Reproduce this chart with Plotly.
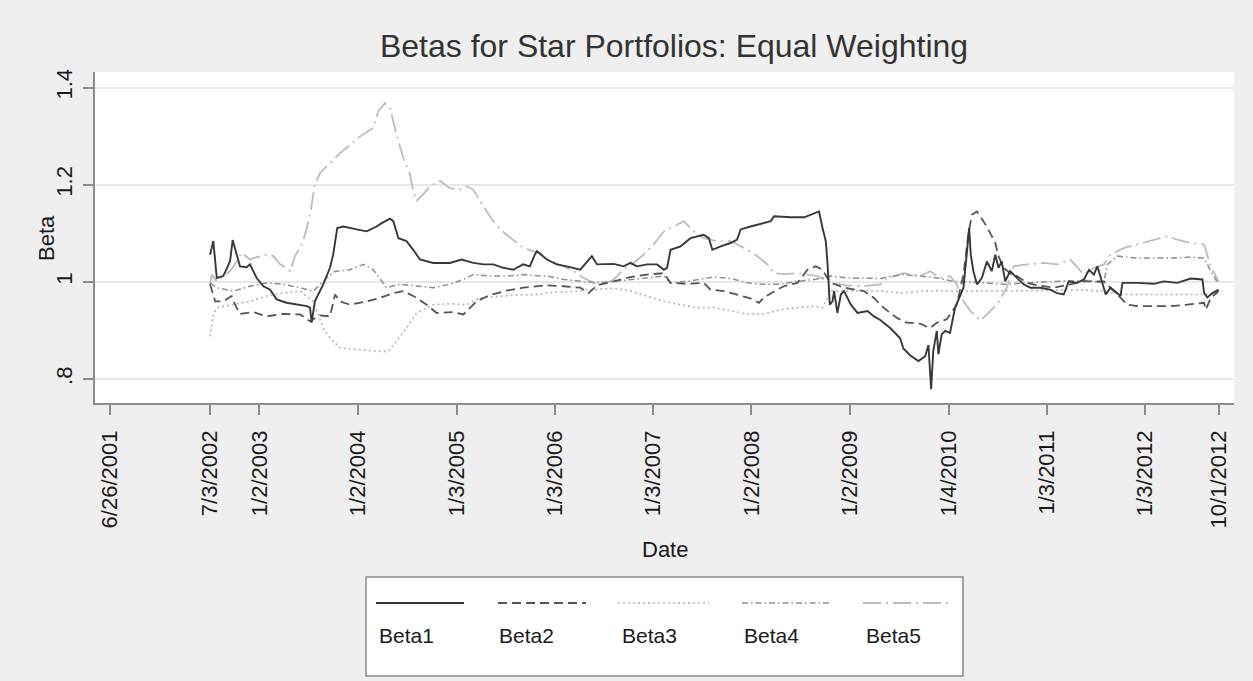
import plotly.graph_objects as go

# ---------------- data ----------------
b1_dates = ["2002-07-03","2002-07-15","2002-07-28","2002-08-21","2002-09-15","2002-09-25","2002-10-10","2002-10-22",
            "2002-11-16","2002-11-28","2002-12-23","2003-01-17","2003-02-11","2003-03-07","2003-04-13","2003-05-20",
            "2003-06-27","2003-07-09","2003-07-15","2003-07-27","2003-08-27","2003-09-21","2003-10-03","2003-10-18",
            "2003-11-10","2003-12-29","2004-02-04","2004-03-12","2004-03-31","2004-05-01","2004-05-13","2004-06-01",
            "2004-07-01","2004-07-26","2004-08-20","2004-10-08","2004-12-09","2005-01-21","2005-03-06","2005-04-12",
            "2005-05-19","2005-06-25","2005-08-01","2005-09-07","2005-10-02","2005-10-20","2005-10-28","2005-12-04",
            "2006-01-10","2006-02-16","2006-04-07","2006-05-20","2006-06-08","2006-08-09","2006-09-15","2006-10-10",
            "2006-11-03","2006-12-11","2007-01-17","2007-02-11","2007-02-23","2007-03-08","2007-04-14","2007-05-21",
            "2007-07-09","2007-07-28","2007-08-10","2007-09-10","2007-10-17","2007-11-10","2007-11-23","2007-12-30",
            "2008-02-18","2008-03-14","2008-03-26","2008-05-27","2008-07-16","2008-08-10","2008-09-03","2008-09-09",
            "2008-09-22","2008-10-04","2008-10-10","2008-10-16","2008-10-19","2008-10-29","2008-11-04","2008-11-16",
            "2008-11-29","2008-12-11","2009-01-05","2009-01-30","2009-03-08","2009-04-01","2009-04-23","2009-05-31",
            "2009-07-07","2009-07-19","2009-08-13","2009-09-13","2009-10-08","2009-10-20","2009-10-26","2009-10-30",
            "2009-11-07","2009-11-20","2009-11-26","2009-12-08","2009-12-21","2010-01-08","2010-01-27","2010-02-15",
            "2010-02-27","2010-03-11","2010-03-20","2010-03-26","2010-04-05","2010-04-18","2010-05-06","2010-05-25",
            "2010-06-12","2010-06-25","2010-07-07","2010-07-19","2010-08-01","2010-08-19","2010-09-13","2010-10-08",
            "2010-11-02","2010-12-09","2011-01-15","2011-02-09","2011-03-06","2011-03-25","2011-04-25","2011-05-20",
            "2011-06-08","2011-06-26","2011-07-09","2011-07-27","2011-08-09","2011-08-27","2011-09-21","2011-10-03",
            "2011-10-10","2011-12-04","2012-02-04","2012-03-12","2012-05-01","2012-06-19","2012-08-02","2012-08-08",
            "2012-08-20","2012-09-08","2012-10-01"]
b1_vals = [1.056,1.084,1.008,1.012,1.042,1.086,1.056,1.032,
           1.030,1.036,1.008,0.991,0.984,0.964,0.957,0.953,
           0.950,0.947,0.916,0.960,0.995,1.029,1.056,1.111,
           1.114,1.108,1.104,1.114,1.121,1.130,1.125,1.090,
           1.084,1.066,1.046,1.039,1.039,1.046,1.039,1.036,
           1.036,1.029,1.025,1.036,1.032,1.056,1.063,1.046,
           1.036,1.032,1.025,1.053,1.036,1.037,1.032,1.039,
           1.032,1.036,1.036,1.025,1.029,1.066,1.073,1.090,
           1.097,1.090,1.066,1.073,1.080,1.087,1.108,1.114,
           1.121,1.125,1.135,1.133,1.133,1.138,1.144,1.145,
           1.111,1.084,1.042,0.995,0.953,0.960,0.981,0.936,
           0.974,0.981,0.953,0.936,0.940,0.929,0.922,0.905,
           0.884,0.863,0.849,0.837,0.847,0.870,0.823,0.779,
           0.858,0.899,0.851,0.892,0.899,0.895,0.947,0.974,
           0.988,1.056,1.111,1.056,1.022,0.995,1.008,1.042,
           1.022,1.056,1.029,1.042,1.001,1.022,1.008,0.995,
           0.988,0.988,0.984,0.977,0.974,1.001,0.998,1.005,
           1.025,1.015,1.032,0.995,0.974,0.988,0.977,0.971,
           0.998,0.998,0.996,1.001,0.998,1.007,1.005,0.977,
           0.968,0.977,0.984]

b2_dates = ["2002-07-03","2002-07-22","2002-08-21","2002-09-21","2002-10-04","2002-10-22","2002-12-11","2003-01-29",
            "2003-04-01","2003-06-02","2003-07-09","2003-08-15","2003-09-21","2003-10-10","2003-10-28","2003-12-04",
            "2004-02-04","2004-03-25","2004-05-13","2004-06-19","2004-07-26","2004-09-14","2004-10-21","2004-12-22",
            "2005-01-28","2005-03-18","2005-05-07","2005-07-07","2005-09-07","2005-11-08","2005-12-04","2006-02-04",
            "2006-04-07","2006-05-08","2006-06-08","2006-08-09","2006-10-10","2006-12-11","2007-02-11","2007-03-08",
            "2007-05-08","2007-07-09","2007-08-03","2007-09-22","2007-11-10","2007-12-30","2008-01-30","2008-02-18",
            "2008-04-07","2008-05-02","2008-06-21","2008-07-28","2008-08-28","2008-09-22","2008-10-10","2008-10-23",
            "2008-12-11","2009-02-23","2009-04-01","2009-05-06","2009-06-24","2009-07-31","2009-09-19","2009-10-26",
            "2009-11-20","2009-12-27","2010-02-02","2010-02-27","2010-03-17","2010-03-30","2010-04-18","2010-05-12",
            "2010-06-06","2010-06-25","2010-07-07","2010-07-26","2010-08-19","2010-09-13","2010-10-20","2010-11-27",
            "2011-01-28","2011-03-31","2011-05-20","2011-08-02","2011-08-27","2011-09-21","2011-10-28","2011-12-04",
            "2012-02-04","2012-04-06","2012-06-07","2012-08-08","2012-08-14","2012-09-02","2012-10-01"]
b2_vals = [0.995,0.960,0.960,0.971,0.953,0.934,0.938,0.929,
           0.934,0.933,0.919,0.931,0.929,0.974,0.960,0.953,
           0.960,0.967,0.977,0.981,0.971,0.953,0.936,0.938,
           0.933,0.960,0.973,0.982,0.988,0.991,0.993,0.991,
           0.988,0.977,0.993,1.001,1.010,1.015,1.018,0.998,
           0.996,0.998,0.984,0.981,0.973,0.966,0.957,0.968,
           0.984,0.991,0.998,1.025,1.032,1.025,1.008,0.998,
           0.988,0.981,0.967,0.947,0.926,0.916,0.914,0.905,
           0.916,0.923,0.953,1.015,1.097,1.138,1.145,1.125,
           1.101,1.080,1.053,1.029,1.018,1.012,0.998,0.993,
           0.988,0.995,1.001,1.001,0.988,0.974,0.953,0.950,
           0.950,0.950,0.953,0.957,0.943,0.967,0.981]

b3_dates = ["2002-07-03","2002-07-15","2002-07-28","2002-09-28","2002-11-28","2003-01-29","2003-04-01","2003-06-02",
            "2003-07-21","2003-08-27","2003-09-21","2003-10-28","2003-12-17","2004-02-04","2004-03-25","2004-04-24",
            "2004-05-25","2004-07-01","2004-08-08","2004-10-08","2004-12-09","2005-02-09","2005-03-30","2005-06-13",
            "2005-08-13","2005-11-08","2005-12-04","2006-02-04","2006-04-07","2006-06-08","2006-08-09","2006-10-10",
            "2006-12-11","2007-02-11","2007-04-14","2007-06-15","2007-08-16","2007-10-17","2007-12-18","2008-02-18",
            "2008-04-20","2008-06-21","2008-08-22","2008-09-22","2008-10-23","2008-12-23","2009-02-23","2009-04-26",
            "2009-07-19","2009-09-19","2009-11-20","2010-01-21","2010-03-24","2010-07-26","2010-11-27","2011-03-31",
            "2011-08-02","2011-10-03","2011-12-04","2012-04-06","2012-08-08","2012-10-01"]
b3_vals = [0.888,0.933,0.947,0.953,0.960,0.971,0.977,0.981,
           0.960,0.905,0.885,0.864,0.861,0.859,0.857,0.857,
           0.878,0.905,0.936,0.953,0.955,0.953,0.967,0.971,
           0.973,0.974,0.978,0.979,0.982,0.985,0.987,0.981,
           0.971,0.960,0.953,0.947,0.947,0.940,0.934,0.934,
           0.943,0.947,0.950,0.947,0.981,0.981,0.982,0.981,
           0.977,0.981,0.982,0.981,0.981,0.981,0.982,0.984,
           0.981,0.974,0.974,0.974,0.974,0.977]

b4_dates = ["2002-07-03","2002-07-28","2002-09-28","2002-11-28","2003-01-29","2003-04-01","2003-06-02","2003-07-21",
            "2003-09-09","2003-10-03","2003-12-04","2004-01-23","2004-02-29","2004-03-25","2004-04-18","2004-06-07",
            "2004-08-08","2004-10-08","2004-12-09","2005-01-28","2005-03-06","2005-05-07","2005-07-07","2005-09-07",
            "2005-11-08","2005-12-04","2006-02-04","2006-04-07","2006-06-08","2006-08-09","2006-10-10","2006-12-11",
            "2007-02-11","2007-03-08","2007-05-08","2007-08-16","2007-10-17","2007-12-18","2008-02-18","2008-04-20",
            "2008-06-21","2008-08-22","2008-10-23","2008-12-23","2009-02-23","2009-04-26","2009-05-18","2009-07-19",
            "2009-09-19","2009-11-20","2010-01-21","2010-03-24","2010-07-26","2010-10-20","2011-01-28","2011-06-01",
            "2011-08-02","2011-08-15","2011-09-21","2011-12-04","2012-04-06","2012-06-19","2012-08-08","2012-09-02",
            "2012-10-01"]
b4_vals = [0.998,0.988,0.981,0.991,0.998,0.995,0.988,0.981,
           1.008,1.021,1.025,1.036,1.025,1.005,0.988,0.995,
           0.991,0.988,0.995,1.005,1.015,1.012,1.012,1.015,
           1.012,1.012,1.005,1.001,0.998,1.001,1.005,1.008,
           1.012,0.998,1.001,1.010,1.007,0.998,0.995,0.995,
           1.001,1.005,1.012,1.008,1.007,1.007,1.010,1.015,
           1.012,1.008,1.001,1.000,0.995,0.998,1.001,1.003,
           0.998,1.036,1.053,1.049,1.049,1.051,1.049,1.022,
           0.995]

b5_dates = ["2002-07-03","2002-07-09","2002-07-28","2002-09-15","2002-10-10","2002-10-28","2002-11-28","2002-12-23",
            "2003-01-29","2003-02-23","2003-03-20","2003-04-13","2003-04-26","2003-05-14","2003-06-02","2003-06-20",
            "2003-07-09","2003-07-27","2003-08-15","2003-09-21","2003-10-28","2003-12-04","2004-01-10","2004-02-29",
            "2004-03-18","2004-04-12","2004-05-01","2004-05-25","2004-06-19","2004-07-14","2004-07-26","2004-08-08",
            "2004-09-01","2004-09-26","2004-11-02","2004-12-09","2005-01-15","2005-02-09","2005-03-06","2005-04-12",
            "2005-05-19","2005-06-13","2005-07-07","2005-08-13","2005-09-07","2005-10-14","2005-11-08","2005-12-16",
            "2006-02-04","2006-03-13","2006-04-19","2006-05-27","2006-07-03","2006-08-09","2006-09-15","2006-10-22",
            "2006-11-28","2007-01-04","2007-02-11","2007-03-20","2007-04-26","2007-06-02","2007-07-09","2007-08-28",
            "2007-10-17","2007-12-05","2008-01-24","2008-03-01","2008-03-26","2008-05-02","2008-06-21","2008-07-28",
            "2008-09-03","2008-10-23","2008-12-23","2009-02-23","2009-04-26","2009-05-18","2009-07-19","2009-09-19",
            "2009-10-26","2009-12-02","2010-01-08","2010-02-02","2010-02-27","2010-03-24","2010-04-30","2010-05-25",
            "2010-07-01","2010-08-07","2010-09-01","2010-10-20","2010-12-21","2011-02-09","2011-03-31","2011-05-20",
            "2011-06-26","2011-08-02","2011-08-27","2011-10-16","2011-12-04","2012-02-04","2012-03-25","2012-05-01",
            "2012-06-19","2012-08-08","2012-09-02","2012-10-01"]
b5_vals = [0.995,1.015,1.001,1.022,1.042,1.060,1.046,1.051,
           1.056,1.053,1.036,1.029,1.022,1.053,1.070,1.097,
           1.138,1.200,1.224,1.245,1.265,1.282,1.299,1.317,
           1.351,1.368,1.358,1.303,1.255,1.221,1.186,1.167,
           1.180,1.197,1.208,1.193,1.190,1.197,1.190,1.156,
           1.125,1.108,1.097,1.080,1.070,1.063,1.060,1.042,
           1.032,1.022,1.008,0.998,0.995,1.005,1.025,1.039,
           1.056,1.077,1.104,1.114,1.125,1.104,1.090,1.084,
           1.084,1.070,1.053,1.036,1.018,1.016,1.018,1.015,
           1.012,0.998,0.993,0.991,0.995,1.007,1.018,1.012,
           1.022,1.008,1.012,0.995,0.960,0.941,0.920,0.933,
           0.953,0.988,1.032,1.036,1.039,1.036,1.046,1.015,
           1.029,1.036,1.056,1.070,1.077,1.087,1.094,1.087,
           1.080,1.077,1.032,1.001]

series_names = ["Beta1", "Beta2", "Beta3", "Beta4", "Beta5"]
x_tick_dates = ["2001-06-26","2002-07-03","2003-01-02","2004-01-02","2005-01-03","2006-01-03","2007-01-03",
                "2008-01-02","2009-01-02","2010-01-04","2011-01-03","2012-01-03","2012-10-01"]
x_tick_text = ["6/26/2001","7/3/2002","1/2/2003","1/2/2004","1/3/2005","1/3/2006","1/3/2007",
               "1/2/2008","1/2/2009","1/4/2010","1/3/2011","1/3/2012","10/1/2012"]
y_tick_vals = [0.8, 1.0, 1.2, 1.4]
y_tick_text = [".8", "1", "1.2", "1.4"]

# ---------------- styles / layout ----------------
W, H = 1253, 681
PL, PR, PT, PB = 95, 1234, 72, 403          # plot area in page pixels
FONT = "Liberation Sans, Arial, Helvetica, sans-serif"
TXT = "#1a1a1a"
styles = [
    dict(color="#383838", width=1.9, dash="solid"),
    dict(color="#555555", width=1.8, dash="9px,5px"),
    dict(color="#b4b4b4", width=1.6, dash="2px,3px"),
    dict(color="#8f8f8f", width=1.5, dash="6px,3px,1.5px,3px"),
    dict(color="#bcbcbc", width=1.8, dash="18px,5px,2px,5px"),
]
all_dates = [b1_dates, b2_dates, b3_dates, b4_dates, b5_dates]
all_vals = [b1_vals, b2_vals, b3_vals, b4_vals, b5_vals]


def px_x(px):
    return (px - PL) / (PR - PL)


def px_y(py):
    return (PB - py) / (PB - PT)


fig = go.Figure()
for i in [4, 3, 2, 1, 0]:
    fig.add_trace(go.Scatter(x=all_dates[i], y=all_vals[i], mode="lines", name=series_names[i],
                             line=styles[i], showlegend=False))

# reference line at beta = 1
fig.add_hline(y=1, line=dict(color="#6a6a6a", width=2), layer="below")

# legend (samples above labels, as in the original)
fig.add_shape(type="rect", xref="paper", yref="paper",
              x0=px_x(366), x1=px_x(963), y0=px_y(676), y1=px_y(577),
              line=dict(color="#8a8a8a", width=1.5), fillcolor="white", layer="above")
leg_line_x = [(376, 464), (498, 586), (618, 709), (742, 831), (863, 953)]
leg_text_x = [377, 497, 620, 742, 864]
for i in range(5):
    x0, x1 = leg_line_x[i]
    fig.add_shape(type="line", xref="paper", yref="paper",
                  x0=px_x(x0), x1=px_x(x1), y0=px_y(603), y1=px_y(603),
                  line=styles[i], layer="above")
    fig.add_annotation(text=series_names[i], xref="paper", yref="paper",
                       x=px_x(leg_text_x[i]), y=px_y(635), xanchor="left", yanchor="middle",
                       showarrow=False, font=dict(size=21, color=TXT, family=FONT))

# axis titles
fig.add_annotation(text="Date", xref="paper", yref="paper", x=px_x(664.5), y=px_y(549),
                   xanchor="center", yanchor="middle", showarrow=False,
                   font=dict(size=22, color=TXT, family=FONT))
fig.add_annotation(text="Beta", xref="paper", yref="paper", x=px_x(46), y=px_y(238),
                   xanchor="center", yanchor="middle", textangle=-90, showarrow=False,
                   font=dict(size=22, color=TXT, family=FONT))

fig.update_layout(
    width=W, height=H,
    margin=dict(l=PL, r=W - PR, t=PT, b=H - PB, autoexpand=False),
    paper_bgcolor="#efefef", plot_bgcolor="white",
    font=dict(family=FONT, size=22, color=TXT),
    title=dict(text="Betas for Star Portfolios: Equal Weighting", x=674 / W, xref="container", xanchor="center",
               y=1 - 46 / H, yref="container", yanchor="middle",
               font=dict(size=32, color="#333333", family=FONT)),
    showlegend=False,
)
fig.update_xaxes(type="date", range=["2001-05-02", "2012-11-27"],
                 tickmode="array", tickvals=x_tick_dates, ticktext=x_tick_text, tickangle=-90,
                 ticks="outside", ticklen=10, tickwidth=1.5, tickcolor="#8c8c8c", ticklabelstandoff=7,
                 showline=True, linecolor="#8c8c8c", linewidth=1.5, showgrid=False, zeroline=False,
                 tickfont=dict(size=22, color=TXT))
fig.update_yaxes(range=[0.7507, 1.432], tickmode="array", tickvals=y_tick_vals, ticktext=y_tick_text,
                 tickangle=-90, ticks="outside", ticklen=10, tickwidth=1.5, tickcolor="#8c8c8c",
                 showline=True, linecolor="#8c8c8c", linewidth=1.5, ticklabelstandoff=2,
                 showgrid=True, gridcolor="#e8e8e8", gridwidth=1.5, zeroline=False,
                 tickfont=dict(size=22, color=TXT))

fig.write_html("out.html", config={"displayModeBar": False},
               post_script="document.body.style.margin='0';")
